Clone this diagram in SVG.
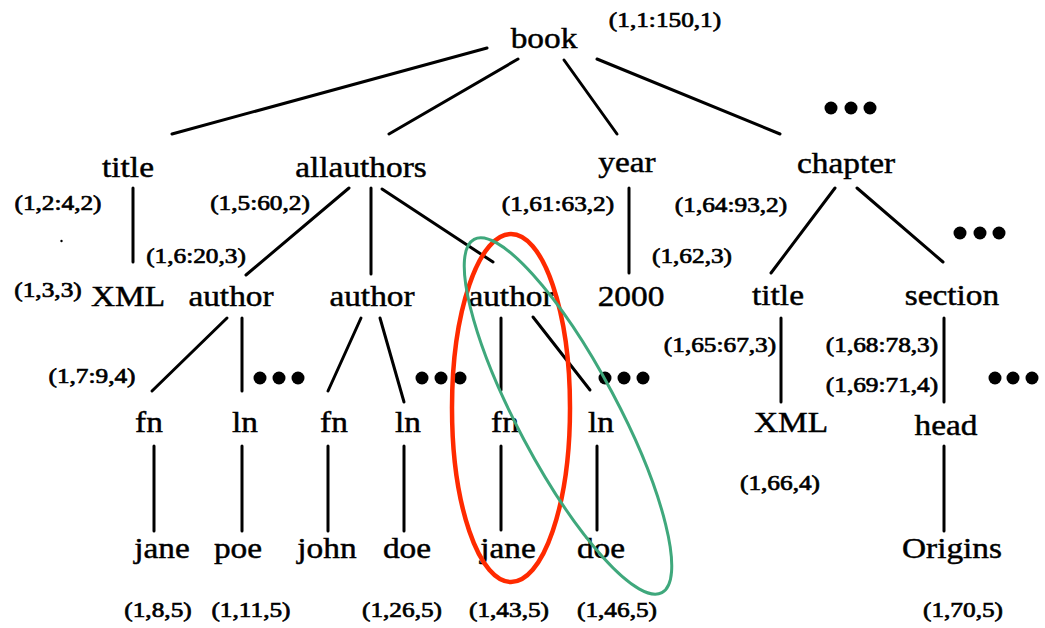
<svg xmlns="http://www.w3.org/2000/svg" width="1045" height="628" viewBox="0 0 1045 628">
<style>
text{font-family:"Liberation Serif","Times New Roman",serif;fill:#000;stroke:#000;text-anchor:middle}
.n{font-size:29px;stroke-width:0.45}
.s{font-size:22px;stroke-width:0.7}
.e line{stroke:#000;stroke-width:3;stroke-linecap:round}
.d{fill:#000}
</style>
<rect width="1045" height="628" fill="#fff"/>
<g id="connectors" class="e">
<line x1="487" y1="48" x2="172" y2="134"/>
<line x1="518" y1="59" x2="389" y2="134"/>
<line x1="564" y1="60" x2="617" y2="134"/>
<line x1="597" y1="59" x2="780" y2="134"/>
<line x1="133" y1="188" x2="133" y2="262"/>
<line x1="349" y1="188" x2="246" y2="275"/>
<line x1="371" y1="188" x2="371" y2="274"/>
<line x1="382" y1="189" x2="493" y2="262"/>
<line x1="629" y1="188" x2="629" y2="273"/>
<line x1="835" y1="188" x2="771" y2="273"/>
<line x1="857" y1="188" x2="943" y2="262"/>
<line x1="227" y1="318" x2="152" y2="391"/>
<line x1="242" y1="318" x2="242" y2="391"/>
<line x1="361" y1="318" x2="328" y2="391"/>
<line x1="380" y1="318" x2="404" y2="402"/>
<line x1="501" y1="318" x2="501" y2="390"/>
<line x1="533" y1="317" x2="590" y2="390"/>
<line x1="781" y1="318" x2="781" y2="402"/>
<line x1="944" y1="318" x2="944" y2="402"/>
<line x1="154" y1="446" x2="154" y2="531"/>
<line x1="242" y1="446" x2="242" y2="531"/>
<line x1="328" y1="446" x2="328" y2="531"/>
<line x1="404" y1="446" x2="404" y2="531"/>
<line x1="501" y1="446" x2="501" y2="530"/>
<line x1="597" y1="446" x2="597" y2="530"/>
<line x1="944" y1="446" x2="944" y2="531"/>
</g>
<g id="n-book"><text class="n" transform="translate(544,48) scale(1.15,1)">book</text><text class="s" transform="translate(665,27) scale(1.15,1)">(1,1:150,1)</text></g>
<g id="n-title"><text class="n" transform="translate(128,177) scale(1.15,1)">title</text><text class="s" transform="translate(58,210) scale(1.15,1)">(1,2:4,2)</text></g>
<g id="n-allauthors"><text class="n" transform="translate(361,177) scale(1.15,1)">allauthors</text><text class="s" transform="translate(260,210) scale(1.15,1)">(1,5:60,2)</text></g>
<g id="n-year"><text class="n" transform="translate(627,172) scale(1.15,1)">year</text><text class="s" transform="translate(558,211) scale(1.15,1)">(1,61:63,2)</text></g>
<g id="n-chapter"><text class="n" transform="translate(846,173) scale(1.15,1)">chapter</text><text class="s" transform="translate(731,212) scale(1.15,1)">(1,64:93,2)</text></g>
<g id="dots-chapter" class="d"><circle cx="831" cy="108" r="6.5"/><circle cx="851" cy="108" r="6.5"/><circle cx="870" cy="108" r="6.5"/></g>
<g id="dots-section" class="d"><circle cx="960" cy="233" r="6.5"/><circle cx="980" cy="233" r="6.5"/><circle cx="999" cy="233" r="6.5"/></g>
<g id="n-xml1"><text class="n" transform="translate(128,306) scale(1.15,1)">XML</text><text class="s" transform="translate(48,297) scale(1.15,1)">(1,3,3)</text></g>
<g id="n-author1"><text class="n" transform="translate(231,306) scale(1.15,1)">author</text><text class="s" transform="translate(196,263) scale(1.15,1)">(1,6:20,3)</text></g>
<g id="n-author2"><text class="n" transform="translate(372,306) scale(1.15,1)">author</text></g>
<g id="n-author3"><text class="n" transform="translate(511,306) scale(1.15,1)">author</text></g>
<g id="n-2000"><text class="n" transform="translate(631,306) scale(1.15,1)">2000</text><text class="s" transform="translate(692,263) scale(1.15,1)">(1,62,3)</text></g>
<g id="n-title2"><text class="n" transform="translate(778,305) scale(1.15,1)">title</text><text class="s" transform="translate(720,352) scale(1.15,1)">(1,65:67,3)</text></g>
<g id="n-section"><text class="n" transform="translate(952,305) scale(1.15,1)">section</text><text class="s" transform="translate(882,352) scale(1.15,1)">(1,68:78,3)</text></g>
<g id="dots-a1" class="d"><circle cx="260" cy="378" r="6.5"/><circle cx="279" cy="378" r="6.5"/><circle cx="298" cy="378" r="6.5"/></g>
<g id="dots-a2" class="d"><circle cx="422" cy="378" r="6.5"/><circle cx="441" cy="378" r="6.5"/><circle cx="460" cy="378" r="6.5"/></g>
<g id="dots-a3" class="d"><circle cx="605" cy="378" r="6.5"/><circle cx="624" cy="378" r="6.5"/><circle cx="643" cy="378" r="6.5"/></g>
<g id="dots-sec2" class="d"><circle cx="995" cy="378" r="6.5"/><circle cx="1013" cy="378" r="6.5"/><circle cx="1032" cy="378" r="6.5"/></g>
<g id="n-fn1"><text class="n" transform="translate(149,432) scale(1.15,1)">fn</text><text class="s" transform="translate(92,383) scale(1.15,1)">(1,7:9,4)</text></g>
<g id="n-ln1"><text class="n" transform="translate(245,432) scale(1.15,1)">ln</text></g>
<g id="n-fn2"><text class="n" transform="translate(334,432) scale(1.15,1)">fn</text></g>
<g id="n-ln2"><text class="n" transform="translate(408,432) scale(1.15,1)">ln</text></g>
<g id="n-fn3"><text class="n" transform="translate(505,432) scale(1.15,1)">fn</text></g>
<g id="n-ln3"><text class="n" transform="translate(601,432) scale(1.15,1)">ln</text></g>
<g id="n-xml2"><text class="n" transform="translate(791,432) scale(1.15,1)">XML</text><text class="s" transform="translate(780,490) scale(1.15,1)">(1,66,4)</text></g>
<g id="n-head"><text class="n" transform="translate(946,435) scale(1.15,1)">head</text><text class="s" transform="translate(882,392) scale(1.15,1)">(1,69:71,4)</text></g>
<g id="n-jane1"><text class="n" transform="translate(162,558) scale(1.15,1)">jane</text><text class="s" transform="translate(158,617) scale(1.15,1)">(1,8,5)</text></g>
<g id="n-poe"><text class="n" transform="translate(238,558) scale(1.15,1)">poe</text><text class="s" transform="translate(251,617) scale(1.15,1)">(1,11,5)</text></g>
<g id="n-john"><text class="n" transform="translate(327,558) scale(1.15,1)">john</text></g>
<g id="n-doe1"><text class="n" transform="translate(407,558) scale(1.15,1)">doe</text><text class="s" transform="translate(402,617) scale(1.15,1)">(1,26,5)</text></g>
<g id="n-jane2"><text class="n" transform="translate(508,558) scale(1.15,1)">jane</text><text class="s" transform="translate(509,617) scale(1.15,1)">(1,43,5)</text></g>
<g id="n-doe2"><text class="n" transform="translate(601,558) scale(1.15,1)">doe</text><text class="s" transform="translate(617,617) scale(1.15,1)">(1,46,5)</text></g>
<g id="n-origins"><text class="n" transform="translate(952,558) scale(1.15,1)">Origins</text><text class="s" transform="translate(963,617) scale(1.15,1)">(1,70,5)</text></g>
<circle cx="61.5" cy="241" r="1.2" fill="#000"/>
<g id="highlights" fill="none">
<ellipse cx="511" cy="408" rx="59" ry="174" stroke="#ff2a00" stroke-width="4.5"/>
<ellipse cx="568" cy="416" rx="200" ry="50" transform="rotate(62 568 416)" stroke="#3fa87c" stroke-width="3"/>
</g>
</svg>
